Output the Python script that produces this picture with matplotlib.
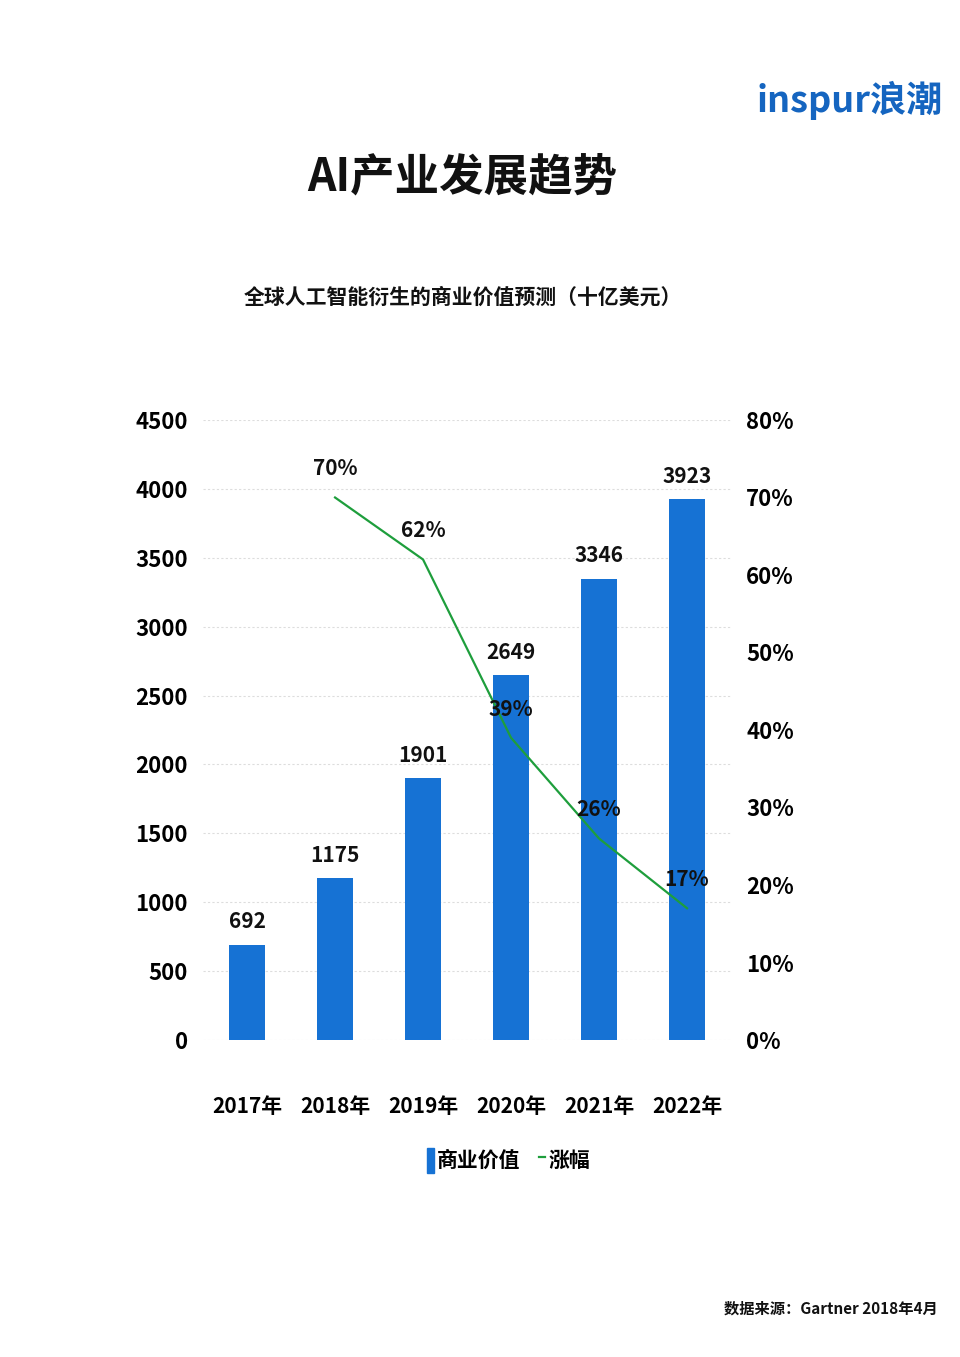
import matplotlib
matplotlib.use('Agg')
import matplotlib.pyplot as plt
from matplotlib.lines import Line2D
from matplotlib.patches import Patch

plt.rcParams['font.family'] = ['Noto Sans CJK SC', 'DejaVu Sans']
plt.rcParams['font.weight'] = 'bold'

years = ['2017年', '2018年', '2019年', '2020年', '2021年', '2022年']
values = [692, 1175, 1901, 2649, 3346, 3923]
growth_years = ['2018年', '2019年', '2020年', '2021年', '2022年']
growth = [70, 62, 39, 26, 17]

bar_color = '#1672d4'
line_color = '#1e9e3c'

fig = plt.figure(figsize=(9.6, 13.57), dpi=100)
ax = fig.add_axes([0.2115, 0.2336, 0.55, 0.4569])
ax2 = ax.twinx()

x = list(range(len(years)))
ax.bar(x, values, width=0.41, color=bar_color, zorder=2)
ax.set_xlim(-0.5, len(years) - 0.5)
ax.set_ylim(0, 4500)
ax.set_yticks(range(0, 4501, 500))
ax.set_xticks(x)
ax.set_xticklabels(years, fontsize=15)
ax.tick_params(axis='x', length=0, pad=40)
ax.tick_params(axis='y', length=0, pad=11, labelsize=16)
ax.grid(axis='y', color='#dddddd', linestyle=(0, (2, 2)), linewidth=0.8, zorder=0)
for s in ax.spines.values():
    s.set_visible(False)

for xi, v in zip(x, values):
    ax.annotate(str(v), (xi, v), xytext=(0, 9), textcoords='offset points',
                ha='center', va='bottom', fontsize=15, color='#111111')

gx = [years.index(y) for y in growth_years]
ax2.plot(gx, [g / 100 for g in growth], color=line_color, linewidth=1.6, zorder=3)
ax2.set_ylim(0, 0.8)
ax2.set_yticks([i / 10 for i in range(9)])
ax2.set_yticklabels([f'{i * 10}%' for i in range(9)], fontsize=16)
ax2.tick_params(axis='y', length=0, pad=11)
for s in ax2.spines.values():
    s.set_visible(False)
for xi, g in zip(gx, growth):
    ax2.annotate(f'{g}%', (xi, g / 100), xytext=(0, 13), textcoords='offset points',
                 ha='center', va='bottom', fontsize=15, color='#111111')

handles = [Patch(color=bar_color), Line2D([0], [0], color=line_color, linewidth=1.6)]
fig.legend(handles, ['商业价值', '涨幅'], loc='center', bbox_to_anchor=(0.53, 0.145),
           ncol=2, frameon=False, fontsize=15, handlelength=0.3, handleheight=1.5,
           handletextpad=0.15, columnspacing=0.9)

fig.text(0.482, 0.869, 'AI产业发展趋势', ha='center', va='center', fontsize=32,
         fontweight='bold', color='#111111')
fig.text(0.482, 0.781, '全球人工智能衍生的商业价值预测（十亿美元）', ha='center', va='center',
         fontsize=15, fontweight='bold', color='#111111')
fig.text(0.885, 0.926, 'inspur浪潮', ha='center', va='center', fontsize=26,
         fontweight='bold', fontstyle='italic', color='#1565c0')
fig.text(0.977, 0.036, '数据来源：Gartner 2018年4月', ha='right', va='center',
         fontsize=11, fontweight='bold', color='#111111')

fig.savefig('out.png', dpi=100, facecolor='white')
